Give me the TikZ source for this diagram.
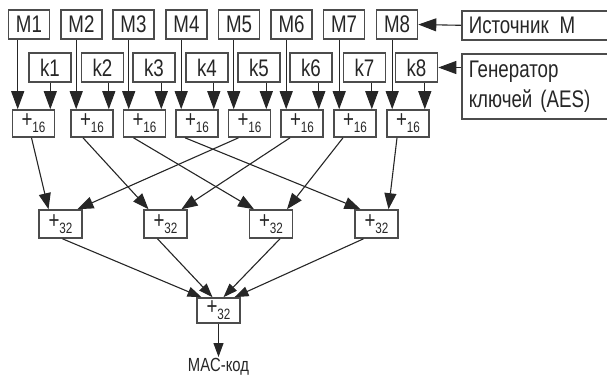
\documentclass[tikz,border=0pt]{standalone}
\usepackage{fontspec}
\setmainfont[FakeStretch=0.78]{Liberation Sans}
\usetikzlibrary{arrows.meta,calc}

\newcommand{\sumlbl}[1]{{\fontsize{24}{24}\selectfont+}\raisebox{-5pt}{\fontsize{15}{15}\selectfont #1}}

\begin{document}
\begin{tikzpicture}[x=1pt, y=-1pt,
  every node/.style={font=\fontsize{24}{30}\selectfont, text=black!85},
  box/.style={draw=black!70, line width=1.6pt, inner sep=0pt},
  msg/.style={box, minimum width=41pt, minimum height=29pt},
  key/.style={box, minimum width=42pt, minimum height=29pt},
  add/.style={box, minimum width=42pt, minimum height=27pt},
  addw/.style={box, minimum width=43pt, minimum height=28pt},
  side/.style={box, anchor=north west, text width=150pt, inner xsep=7pt, align=left},
  arr/.style={-{Triangle[length=18pt,width=13pt]}, line width=1.1pt, draw=black!85},
  arrd/.style={-{Triangle[length=16pt,width=12pt]}, line width=1.1pt, draw=black!85},
  arrs/.style={-{Triangle[length=14pt,width=10pt]}, line width=1.1pt, draw=black!85}]

  \useasboundingbox (0,0) rectangle (607,376);

  % message blocks, keys and first adders
  \foreach \i/\m/\k/\p in {1/29/50/33.5, 2/81.5/102.5/92, 3/133.5/154/144.5,
      4/186.5/207/197, 5/239/259/249.5, 6/291.5/311/302, 7/344/364.5/355,
      8/397/416.5/408}{
    \node[msg] (M\i) at (\m,24.5) {M\i};
    \node[key] (k\i) at (\k,67.5) {k\i};
    \node[add] (P\i) at (\p,123.5) {\sumlbl{16}};
    \coordinate (a\i) at ($(P\i.north west)+(6,0)$);
    \coordinate (b\i) at ($(P\i.north east)+(-5,0)$);
    \draw[arr] (a\i |- M\i.south) -- (a\i);
    \draw[arr] (b\i |- k\i.south) -- (b\i);
  }

  \node[side, minimum height=29pt] (src) at (461,10) {Источник~\hspace{3pt}M};
  \node[side, minimum height=65pt] (gen) at (461,53) {Генератор\\ключей (AES)};
  \draw[arr] (src.west) -- (M8.east);
  \draw[arr] (gen.west |- k8.east) -- (k8.east);

  % second level
  \node[addw] (Q1) at (60.5,224) {\sumlbl{32}};
  \node[addw] (Q2) at (165.5,224) {\sumlbl{32}};
  \node[addw] (Q3) at (271,224) {\sumlbl{32}};
  \node[addw] (Q4) at (376.5,224) {\sumlbl{32}};

  \foreach \i/\s/\j/\e in {1/-2/1/-12, 2/-9/2/-17, 3/-11/3/-17, 4/-12/4/-16,
      5/-11/1/17, 6/-12/2/16, 7/-12/3/16, 8/-11/4/12}
    \draw[arrd] ($(P\i.south)+(\s,0)$) -- ($(Q\j.north)+(\e,0)$);

  % final adder
  \node[addw, minimum height=25pt] (R) at (218.5,310.5) {\sumlbl{32}};
  \foreach \j/\s/\e in {1/2/-17, 2/-8/-6, 3/9/5, 4/-13/16}
    \draw[arrs] ($(Q\j.south)+(\s,0)$) -- ($(R.north)+(\e,0)$);

  \node[font=\fontsize{19}{19}\selectfont, anchor=north, inner sep=1pt] (mac)
    at (218.5,357) {MAC-код};
  \draw[arrs] (R.south) -- (mac.north);
\end{tikzpicture}
\end{document}
